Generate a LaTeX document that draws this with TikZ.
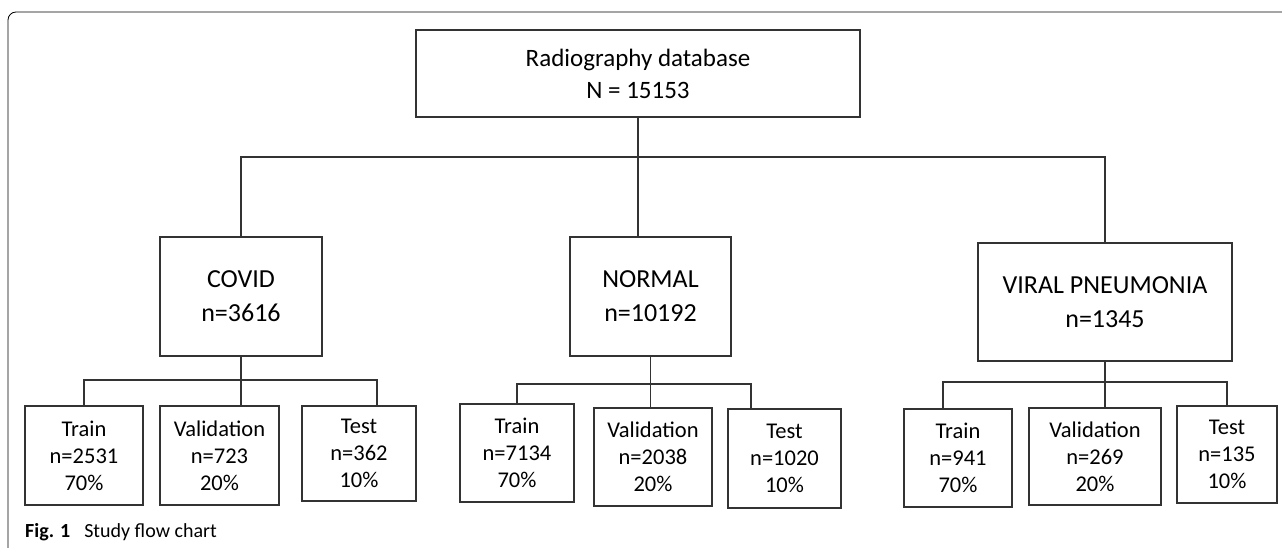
\documentclass[tikz,border=0pt]{standalone}
\usepackage{fontspec}
\setmainfont{Carlito}
\usepackage{tikz}
\usetikzlibrary{positioning}

\begin{document}
\begin{tikzpicture}[x=1pt,y=-1pt,
box/.style={rectangle, draw=black!80, line width=1.1pt, inner sep=0pt, align=center},
bigbox/.style={box, font=\fontsize{25}{32}\selectfont},
catbox/.style={box, font=\fontsize{26}{34}\selectfont},
subbox/.style={box, font=\fontsize{22.5}{27}\selectfont},
link/.style={draw=black!80, line width=1.1pt},
]
\useasboundingbox (0,0) rectangle (1282,548);

%Frame
\coordinate (framebl) at (8,548);
\coordinate (frametr) at (1282,12);
\draw[black, line width=0.8pt, rounded corners=8pt] (framebl) |- (frametr);

%Nodes
\node[bigbox, minimum width=444pt, minimum height=87pt] (db) at (638,73.5) {Radiography database\\N = 15153};

\node[catbox, minimum width=162pt, minimum height=119pt] (covid)  at (241,296.5)   {COVID\\n=3616};
\node[catbox, minimum width=161pt, minimum height=119pt] (normal) at (650.5,296.5) {NORMAL\\n=10192};
\node[catbox, minimum width=254pt, minimum height=118pt] (viral)  at (1105,302)    {VIRAL PNEUMONIA\\n=1345};

\node[subbox, minimum width=118pt, minimum height=99pt] (ctrain) at (84,455.5)    {Train\\n=2531\\70\%};
\node[subbox, minimum width=119pt, minimum height=99pt] (cval)   at (219.5,455.5) {Validation\\n=723\\20\%};
\node[subbox, minimum width=114pt, minimum height=95pt] (ctest)  at (359,453.5)   {Test\\n=362\\10\%};

\node[subbox, minimum width=114pt, minimum height=98pt] (ntrain) at (517,453)     {Train\\n=7134\\70\%};
\node[subbox, minimum width=118pt, minimum height=98pt] (nval)   at (653,457)     {Validation\\n=2038\\20\%};
\node[subbox, minimum width=113pt, minimum height=99pt] (ntest)  at (784.5,458.5) {Test\\n=1020\\10\%};

\node[subbox, minimum width=108pt, minimum height=98pt] (vtrain) at (958,458)     {Train\\n=941\\70\%};
\node[subbox, minimum width=132pt, minimum height=97pt] (vval)   at (1095,456.5)  {Validation\\n=269\\20\%};
\node[subbox, minimum width=100pt, minimum height=97pt] (vtest)  at (1227,454.5)  {Test\\n=135\\10\%};

\node[anchor=base west, inner sep=0pt, font=\fontsize{20}{24}\selectfont] (cap) at (25,537) {\textbf{Fig. 1}\hspace{14pt}Study flow chart};

%Lines
\coordinate (split)  at (638,157);
\coordinate (cright) at (377,380);
\coordinate (nright) at (751,384);
\coordinate (vleft)  at (943,382);

\draw[link] (db.south) -- (split);
\draw[link] (covid.north) |- (split) -| (viral.north);
\draw[link] (split) -- (split |- normal.north);

\draw[link] (covid.south) -- (covid.south |- cval.north);
\draw[link] (ctrain.north) |- (cright) -- (cright |- ctest.north);

\draw[link] (normal.south) -- (normal.south |- nval.north);
\draw[link] (ntrain.north) |- (nright) -- (nright |- ntest.north);

\draw[link] (viral.south) -- (viral.south |- vval.north);
\draw[link] (vleft |- vtrain.north) -- (vleft) -| (vtest.north);
\end{tikzpicture}
\end{document}
